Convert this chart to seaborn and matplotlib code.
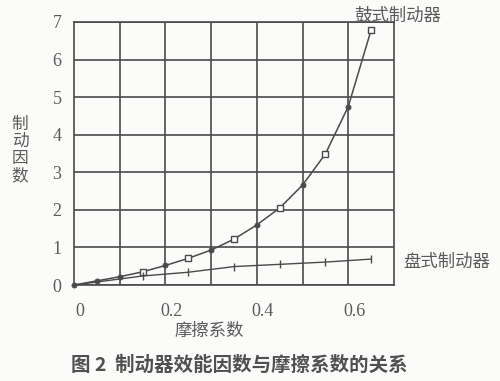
import numpy as np
import pandas as pd
import matplotlib
matplotlib.use('Agg')
import matplotlib.pyplot as plt
import seaborn as sns
from matplotlib.transforms import ScaledTranslation

# --- dados ---
mu_tambor = [0, 0.05, 0.10, 0.15, 0.20, 0.25, 0.30, 0.35, 0.40, 0.45, 0.50, 0.55, 0.60, 0.65]
bf_tambor = [0, 0.11, 0.22, 0.35, 0.52, 0.71, 0.93, 1.22, 1.60, 2.05, 2.66, 3.49, 4.75, 6.79]
mu_disco = [0, 0.15, 0.25, 0.35, 0.45, 0.55, 0.65]
bf_disco = [0, 0.24, 0.34, 0.49, 0.55, 0.61, 0.69]
x_ticks = [0, 0.2, 0.4, 0.6]
x_labels = ['0', '0.2', '0.4', '0.6']
y_ticks = [0, 1, 2, 3, 4, 5, 6, 7]

cor = '#4a4a4a'
cor_txt = '#5a5a5a'

sns.set_style('white')
plt.rcParams['font.family'] = ['Noto Sans CJK SC', 'DejaVu Sans']

df_t = pd.DataFrame({'mu': mu_tambor, 'bf': bf_tambor})
df_d = pd.DataFrame({'mu': mu_disco, 'bf': bf_disco})
# pontos quadrados a cada 0.1 a partir de 0.15, os outros são bolinhas
impar = (np.round(df_t['mu'] * 20) % 2 == 1) & (df_t['mu'] > 0.1)
df_sq = df_t[impar]
df_dot = df_t[~impar]

fig = plt.figure(figsize=(5, 3.81), dpi=100)
fig.patch.set_facecolor('#fbfbfa')
ax = fig.add_axes([74 / 500, 1 - 285 / 381, 320 / 500, 263 / 381])
ax.set_facecolor('#fbfbfa')

sns.lineplot(data=df_t, x='mu', y='bf', ax=ax, color=cor, linewidth=1.1, clip_on=False)
sns.lineplot(data=df_d, x='mu', y='bf', ax=ax, color=cor, linewidth=1.0, clip_on=False)
sns.scatterplot(data=df_sq, x='mu', y='bf', ax=ax, marker='s', s=22, color='white',
                edgecolor=cor, linewidth=1.0, zorder=5, clip_on=False)
sns.scatterplot(data=df_dot, x='mu', y='bf', ax=ax, marker='o', s=14, color=cor,
                edgecolor=cor, linewidth=0.5, zorder=5, clip_on=False)
sns.scatterplot(data=df_d.iloc[1:], x='mu', y='bf', ax=ax, marker='|', s=30, color=cor,
                linewidth=1.0, zorder=5, clip_on=False)

ax.set_xlim(0, 0.7)
ax.set_ylim(0, 7)
ax.set_xticks(x_ticks)
ax.set_xticklabels(x_labels)
ax.set_yticks(y_ticks)
ax.set_xlabel('')
ax.set_ylabel('')

# grade desenhada à mão (linhas a cada 0.1 no eixo x)
for xv in np.arange(0.1, 0.65, 0.1):
    ax.axvline(xv, color=cor, linewidth=1.2, zorder=0)
ax.grid(which='major', axis='y', color=cor, linewidth=1.2)
ax.set_axisbelow(True)

for s in ax.spines.values():
    s.set_color(cor)
    s.set_linewidth(1.2)
ax.tick_params(axis='both', which='both', length=0, colors=cor_txt)
ax.tick_params(axis='x', pad=13)
ax.tick_params(axis='y', pad=9)
for lab in ax.get_xticklabels() + ax.get_yticklabels():
    lab.set_fontfamily('Liberation Serif')
    lab.set_fontsize(13)
# os números do eixo x ficam um pouco à direita das linhas
desloc = ScaledTranslation(6 / 100, 0, fig.dpi_scale_trans)
for lab in ax.get_xticklabels():
    lab.set_transform(lab.get_transform() + desloc)

fig.text(398 / 500, 1 - 15 / 381, '鼓式制动器', ha='center', va='center', fontsize=12.5, color=cor_txt)
fig.text(447 / 500, 1 - 262 / 381, '盘式制动器', ha='center', va='center', fontsize=12.5, color=cor_txt)
fig.text(20 / 500, 1 - 150 / 381, '制\n动\n因\n数', ha='center', va='center', fontsize=12,
         color=cor_txt, linespacing=1.0)
fig.text(209 / 500, 1 - 331 / 381, '摩擦系数', ha='center', va='center', fontsize=12.5, color=cor_txt)
fig.text(239 / 500, 1 - 365 / 381, '图 2  制动器效能因数与摩擦系数的关系', ha='center', va='center',
         fontsize=14, fontweight='bold', color='#505050')

plt.savefig('out.png', dpi=100, facecolor=fig.get_facecolor())
